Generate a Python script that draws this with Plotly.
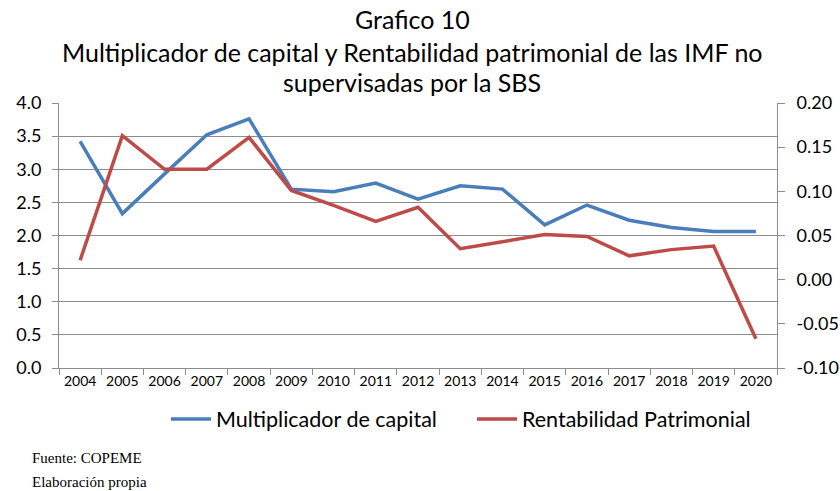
import plotly.graph_objects as go

years = [str(y) for y in range(2004, 2021)]
multiplicador = [3.42, 2.33, 2.93, 3.52, 3.76, 2.70, 2.66, 2.79, 2.55, 2.75, 2.70, 2.16, 2.46, 2.23, 2.12, 2.06, 2.06]
rentabilidad = [0.022, 0.163, 0.125, 0.125, 0.161, 0.101, 0.084, 0.066, 0.082, 0.035, 0.043, 0.051, 0.049, 0.027, 0.034, 0.038, -0.067]

left_ticks = [0, 0.5, 1, 1.5, 2, 2.5, 3, 3.5, 4]
right_ticks = [-0.10, -0.05, 0.0, 0.05, 0.10, 0.15, 0.20]

BLUE = "#4A7EBB"
RED = "#BE4B48"
GRID = "#8C8C8C"
FONT = "Lato"

fig = go.Figure()
fig.add_trace(go.Scatter(x=years, y=multiplicador, mode="lines", name="Multiplicador de capital",
                         line=dict(color=BLUE, width=3.5), yaxis="y"))
fig.add_trace(go.Scatter(x=years, y=rentabilidad, mode="lines", name="Rentabilidad Patrimonial",
                         line=dict(color=RED, width=3.5), yaxis="y2"))

L, R, T, B = 59, 63, 103, 123
W = 840 - L - R
H = 491 - T - B

def py(ypix):
    return (491 - B - ypix) / H

def px(xpix):
    return (xpix - L) / W

fig.update_layout(
    width=840, height=491,
    margin=dict(l=L, r=R, t=T, b=B, pad=0, autoexpand=False),
    paper_bgcolor="white", plot_bgcolor="white",
    font=dict(family=FONT, color="#000000"),
    showlegend=True,
    legend=dict(orientation="h", x=px(166), xanchor="left", y=py(419), yanchor="middle",
                font=dict(size=21.5, family=FONT), itemwidth=40, entrywidth=251,
                tracegroupgap=0, bgcolor="rgba(0,0,0,0)"),
    xaxis=dict(type="category", showgrid=False, showline=True, linecolor=GRID, linewidth=1,
               ticks="outside", ticklen=6, tickcolor=GRID, tickson="boundaries", tickangle=0,
               tickfont=dict(size=14, family=FONT), range=[-0.5, 16.5], fixedrange=True,
               automargin=False),
    yaxis=dict(range=[0, 4], tickvals=left_ticks, ticktext=[f"{v:.1f}" for v in left_ticks],
               showgrid=True, gridcolor=GRID, gridwidth=1, showline=True, linecolor=GRID,
               ticks="outside", ticklen=6, tickcolor=GRID, tickfont=dict(size=18, family=FONT),
               ticklabelstandoff=7, zeroline=False, automargin=False),
    yaxis2=dict(range=[-0.10, 0.20], tickvals=right_ticks, ticktext=[f"{v:.2f}" for v in right_ticks],
                overlaying="y", side="right", showgrid=False, showline=True, linecolor=GRID,
                ticks="outside", ticklen=7, tickcolor=GRID, tickfont=dict(size=18, family=FONT),
                ticklabelstandoff=8, zeroline=False, automargin=False),
)

titles = [("Grafico 10", 19), ("Multiplicador de capital y Rentabilidad patrimonial de las IMF no", 52),
          ("supervisadas por la SBS", 82)]
for txt, yp in titles:
    fig.add_annotation(text=txt, xref="paper", yref="paper", x=px(412), y=py(yp), xanchor="center",
                       yanchor="middle", showarrow=False, font=dict(size=25, family=FONT))

for txt, yp in [("Fuente: COPEME", 458), ("Elaboración propia", 482)]:
    fig.add_annotation(text=txt, xref="paper", yref="paper", x=px(30), y=py(yp),
                       xanchor="left", yanchor="middle", showarrow=False,
                       font=dict(size=15, family="Liberation Serif"))

fig.write_html("out.html", config={"displayModeBar": False},
               post_script="document.body.style.margin='0';")
